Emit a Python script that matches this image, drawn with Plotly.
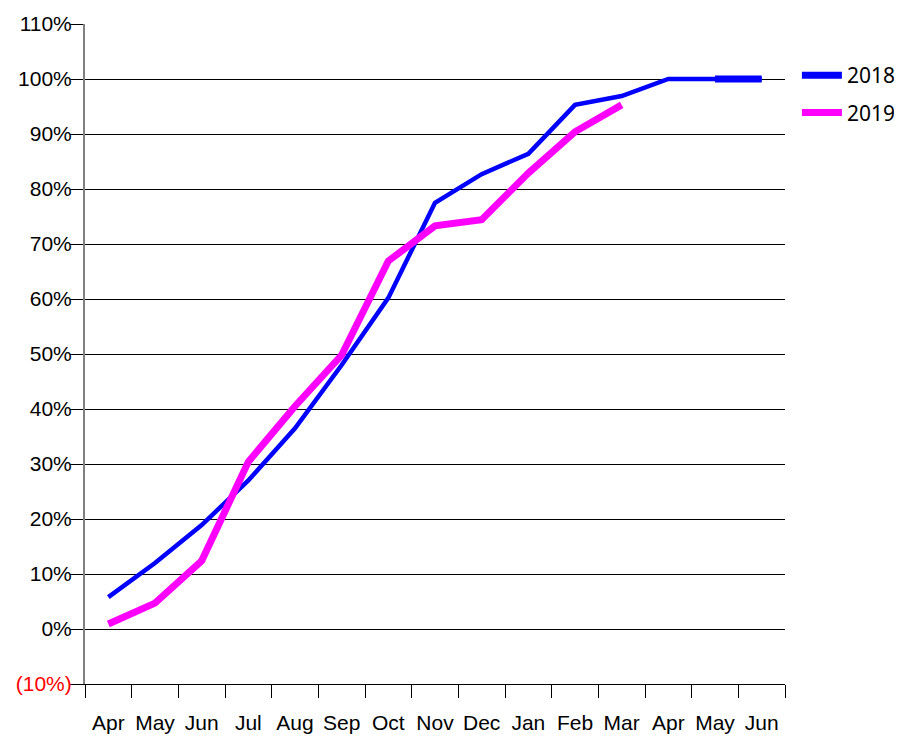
import plotly.graph_objects as go

periods = ["2018-04", "2018-05", "2018-06", "2018-07", "2018-08", "2018-09", "2018-10",
           "2018-11", "2018-12", "2019-01", "2019-02", "2019-03", "2019-04", "2019-05", "2019-06"]
month_labels = ["Apr", "May", "Jun", "Jul", "Aug", "Sep", "Oct", "Nov", "Dec", "Jan",
                "Feb", "Mar", "Apr", "May", "Jun"]
spend_2018 = [5.8, 12.0, 18.9, 27.0, 36.5, 48.0, 60.2, 77.5, 82.7, 86.4, 95.3, 96.9, 100.0, 100.0, 100.0]
spend_2019 = [0.9, 4.7, 12.4, 30.4, 40.5, 49.8, 66.9, 73.3, 74.4, 82.9, 90.4, 95.3]
y_ticks = [-10, 0, 10, 20, 30, 40, 50, 60, 70, 80, 90, 100, 110]
y_labels = ["<span style='color:#ff0000'>(10%)</span>", "0%", "10%", "20%", "30%", "40%", "50%",
            "60%", "70%", "80%", "90%", "100%", "110%"]

fig = go.Figure()
fig.add_trace(go.Scatter(x=periods, y=spend_2018, name="2018", mode="lines", showlegend=False,
                         line=dict(color="#0000ff", width=4.5), legendgroup="a"))
fig.add_trace(go.Scatter(x=periods[13:15], y=spend_2018[13:15], name="2018", mode="lines",
                         line=dict(color="#0000ff", width=7), legendgroup="a", hoverinfo="skip"))
fig.add_trace(go.Scatter(x=periods[:len(spend_2019)], y=spend_2019, name="2019", mode="lines",
                         line=dict(color="#ff00ff", width=7), legendgroup="b"))

fig.update_layout(
    width=894, height=726,
    margin=dict(l=77, r=117, t=16, b=50, autoexpand=False),
    paper_bgcolor="white", plot_bgcolor="white",
    font=dict(family="Liberation Sans, Arial, sans-serif", size=21, color="black"),
    showlegend=True,
    legend=dict(x=1.017, y=0.953, xanchor="left", yanchor="top",
                font=dict(family="Noto Sans, Open Sans, sans-serif", size=21, color="black"),
                tracegroupgap=7, itemwidth=40, bgcolor="rgba(0,0,0,0)"),
)
fig.update_xaxes(
    type="category", categoryorder="array", categoryarray=periods,
    tickvals=periods, ticktext=month_labels, tickangle=0,
    range=[-0.5, 14.5], tickson="boundaries",
    ticks="outside", ticklen=13, tickcolor="black", tickwidth=1,
    showline=True, linecolor="black", linewidth=1,
    showgrid=False, zeroline=False, ticklabelstandoff=20,
)
fig.update_yaxes(
    range=[-10, 110], tickvals=y_ticks, ticktext=y_labels,
    ticks="outside", ticklen=13, tickcolor="black", tickwidth=1,
    showline=True, linecolor="#808080", linewidth=2,
    showgrid=True, gridcolor="black", gridwidth=1, zeroline=False,
    ticklabelstandoff=-6,
)
fig.write_html("out.html")
